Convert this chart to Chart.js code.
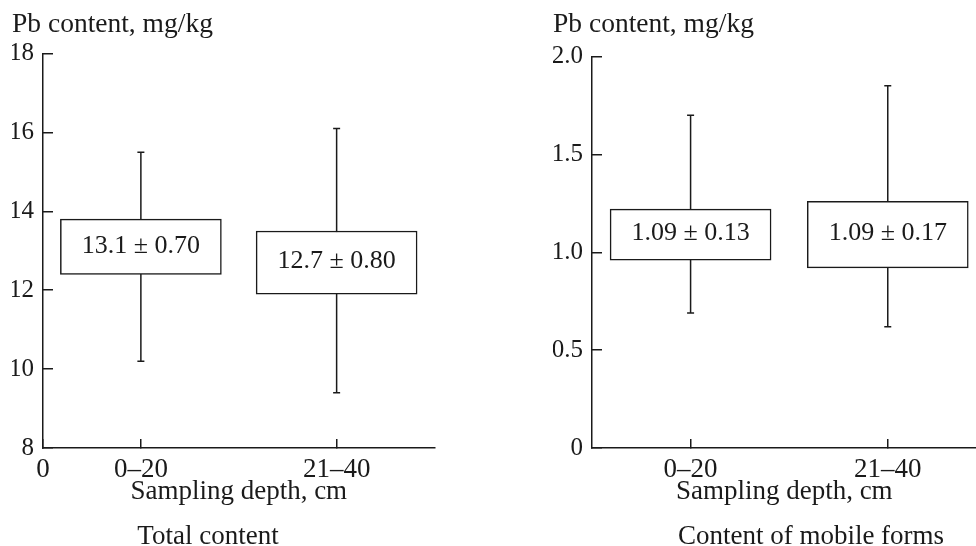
<!DOCTYPE html>
<html>
<head>
<meta charset="utf-8">
<script src="https://cdn.jsdelivr.net/npm/chart.js@4.4.1/dist/chart.umd.min.js"></script>
<style>
html, body { margin: 0; padding: 0; background: #fff; overflow: hidden; width: 976px; height: 546px; position: relative; }
.panel { position: absolute; top: 0; }
#left { left: 12px; }
#right { left: 553px; }
.caption {
    position: absolute; top: 522px; width: 400px; margin-left: -200px;
    font: 27px/27px "Liberation Serif", "Times New Roman", serif; color: #1a1a1a;
    text-align: center; white-space: nowrap;
}
</style>
</head>
<body>
<div class="panel" id="left"><canvas id="total" width="428" height="546"></canvas></div>
<div class="panel" id="right"><canvas id="mobile" width="429" height="546"></canvas></div>
<div class="caption" style="left:208px">Total content</div>
<div class="caption" style="left:811px">Content of mobile forms</div>
<script>
const depthLabels = ['0–20', '21–40'];
const depthPos = [0.5, 1.5];

// total content, mg/kg
const totalLow = [12.4, 11.9];
const totalHigh = [13.8, 13.5];
const totalMin = [10.2, 9.4];
const totalMax = [15.5, 16.1];
const totalText = ['13.1 ± 0.70', '12.7 ± 0.80'];

// mobile forms, mg/kg
const mobileLow = [0.96, 0.92];
const mobileHigh = [1.22, 1.26];
const mobileMin = [0.69, 0.62];
const mobileMax = [1.70, 1.85];
const mobileText = ['1.09 ± 0.13', '1.09 ± 0.17'];

const INK = '#1a1a1a';
Chart.defaults.font.family = '"Liberation Serif", "Times New Roman", serif';
Chart.defaults.color = INK;

const boxLabels = {
    id: 'boxLabels',
    afterDatasetsDraw(chart, args, opts) {
        const meta = chart.getDatasetMeta(0);
        const ctx = chart.ctx;
        ctx.save();
        ctx.font = '26px "Liberation Serif"';
        ctx.fillStyle = INK;
        ctx.textAlign = 'center';
        ctx.textBaseline = 'middle';
        meta.data.forEach((bar, i) => {
            ctx.fillText(opts.labels[i], bar.x, (bar.y + bar.base) / 2 - 1);
        });
        ctx.restore();
    }
};

function makeChart(id, o) {
    const datasets = [{
        type: 'bar',
        data: depthPos.map((x, i) => ({ x, y: [o.low[i], o.high[i]] })),
        backgroundColor: '#fff',
        borderColor: INK,
        borderWidth: 1.5,
        borderSkipped: false,
        barThickness: 161,
        order: 0
    }];
    depthPos.forEach((x, i) => datasets.push({
        type: 'line',
        data: [{ x, y: o.min[i] }, { x, y: o.max[i] }],
        borderColor: INK,
        borderWidth: 1.5,
        pointStyle: 'line',
        pointRadius: 3.5,
        pointBorderColor: INK,
        pointBorderWidth: 1.5,
        order: 1
    }));

    return new Chart(document.getElementById(id), {
        type: 'bar',
        data: { datasets },
        options: {
            responsive: false,
            animation: false,
            layout: { padding: { left: 0, right: 0, top: 0, bottom: 23 } },
            scales: {
                x: {
                    type: 'linear',
                    offset: false,
                    min: 0,
                    max: o.xMax,
                    afterBuildTicks: s => { s.ticks = o.xTicks.map(v => ({ value: v })); },
                    afterFit: s => { s.height = 75; },
                    ticks: {
                        autoSkip: false,
                        maxRotation: 0,
                        font: { size: 27, lineHeight: 1 },
                        padding: 17,
                        callback: (v, i) => o.xTickLabels[i]
                    },
                    grid: { offset: false, drawOnChartArea: false, tickLength: -9, color: INK, lineWidth: 1.5 },
                    border: { color: INK, width: 1.5 },
                    title: {
                        display: true,
                        text: 'Sampling depth, cm',
                        font: { size: 27, lineHeight: 1 },
                        padding: { top: 0, bottom: 18 }
                    }
                },
                y: {
                    min: o.yMin,
                    max: o.yMax,
                    afterFit: s => { s.width = o.yWidth; },
                    ticks: {
                        stepSize: o.yStep,
                        font: { size: 25 },
                        padding: 19,
                        callback: o.yFormat
                    },
                    grid: { drawOnChartArea: false, tickLength: -10, color: INK, lineWidth: 1.5 },
                    border: { color: INK, width: 1.5 }
                }
            },
            plugins: {
                legend: { display: false },
                tooltip: { enabled: false },
                title: {
                    display: true,
                    text: 'Pb content, mg/kg',
                    align: 'start',
                    font: { size: 27.5, weight: 'normal', lineHeight: 1 },
                    padding: { top: 11, bottom: o.titleGap }
                },
                boxLabels: { labels: o.labels }
            }
        },
        plugins: [boxLabels]
    });
}

makeChart('total', {
    low: totalLow, high: totalHigh, min: totalMin, max: totalMax, labels: totalText,
    xMax: 2, xTicks: [0, 0.5, 1.5], xTickLabels: ['0'].concat(depthLabels),
    yMin: 8, yMax: 18, yStep: 2, yFormat: v => String(v), yWidth: 31,
    titleGap: 15
});

makeChart('mobile', {
    low: mobileLow, high: mobileHigh, min: mobileMin, max: mobileMax, labels: mobileText,
    xMax: 1.95, xTicks: [0.5, 1.5], xTickLabels: depthLabels,
    yMin: 0, yMax: 2, yStep: 0.5, yFormat: v => v === 0 ? '0' : v.toFixed(1), yWidth: 39,
    titleGap: 18
});
</script>
</body>
</html>
